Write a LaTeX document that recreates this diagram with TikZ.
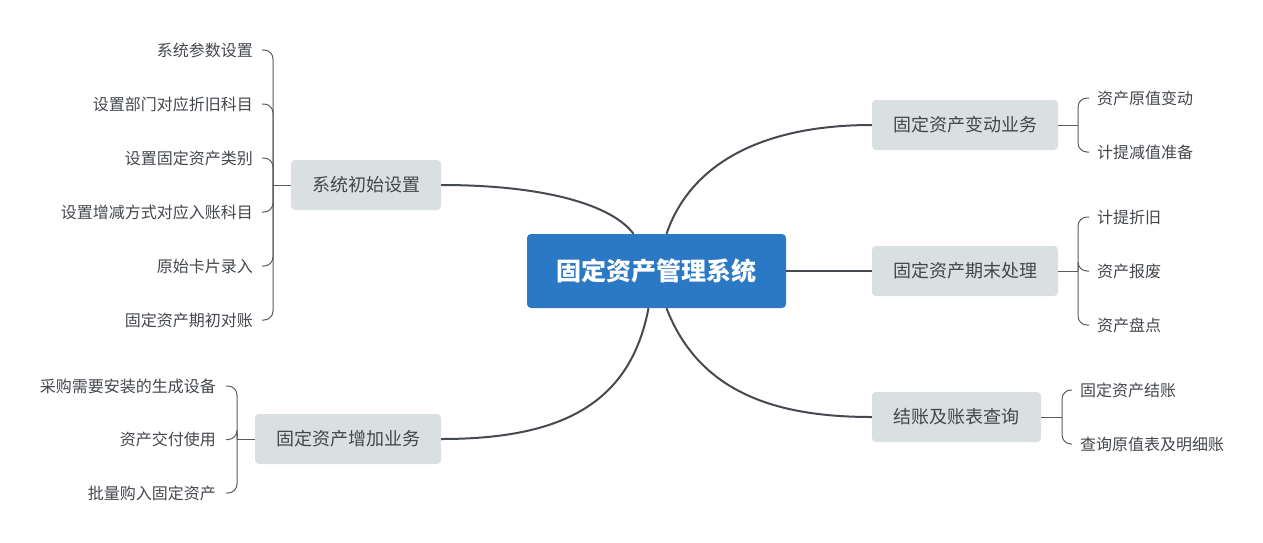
\documentclass[tikz,border=0pt]{standalone}
\usepackage{fontspec}
\setmainfont{Noto Sans CJK SC}
\usetikzlibrary{positioning}

\definecolor{rootblue}{HTML}{2B78C4}
\definecolor{topicgray}{HTML}{DAE0E2}
\definecolor{linegray}{HTML}{454A50}
\definecolor{textgray}{HTML}{43474C}

\begin{document}
\begin{tikzpicture}[x=1pt, y=-1pt,
  root/.style={fill=rootblue, rounded corners=4pt, minimum width=259pt, minimum height=74pt,
    text=white, font=\fontsize{25}{30}\selectfont\bfseries},
  topic/.style={fill=topicgray, rounded corners=4pt, minimum height=50pt,
    text=textgray, font=\fontsize{18}{22}\selectfont},
  leaf/.style={inner sep=0pt, text=textgray, font=\fontsize{16}{19}\selectfont},
  branch/.style={draw=linegray, line width=2pt},
  twig/.style={draw=linegray!90, line width=1pt, rounded corners=9pt}]

\useasboundingbox (0,0) rectangle (1263,542);

% Root and main topics
\node[root] (sys) at (656.5,271) {固定资产管理系统};
\node[topic, minimum width=150pt] (init) at (366,185) {系统初始设置};
\node[topic, minimum width=186pt] (add) at (348,439) {固定资产增加业务};
\node[topic, minimum width=186pt] (chg) at (965,125) {固定资产变动业务};
\node[topic, minimum width=186pt] (end) at (965,271) {固定资产期末处理};
\node[topic, minimum width=169pt] (close) at (956.5,417) {结账及账表查询};

% Main branches
\draw[branch] (init.east) .. controls (545,185) and (612,205) .. ([xshift=-23pt]sys.north);
\draw[branch] ([xshift=10pt]sys.north) .. controls (690,165) and (760,125) .. (chg.west);
\draw[branch] (sys.east) -- (end.west);
\draw[branch] ([xshift=-8pt]sys.south) .. controls (630,405) and (560,439) .. (add.east);
\draw[branch] ([xshift=10pt]sys.south) .. controls (700,395) and (780,417) .. (close.west);

% Junctions
\coordinate (j1) at (273,185);
\coordinate (j2) at (237,439);
\coordinate (j3) at (1078,125);
\coordinate (j4) at (1078,271);
\coordinate (j5) at (1062,417);
\draw[twig] (init.west) -- (j1);
\draw[twig] (add.west) -- (j2);
\draw[twig] (chg.east) -- (j3);
\draw[twig] (end.east) -- (j4);
\draw[twig] (close.east) -- (j5);

% System setup leaves
\foreach \t [count=\i] in {系统参数设置, 设置部门对应折旧科目, 设置固定资产类别,
    设置增减方式对应入账科目, 原始卡片录入, 固定资产期初对账} {
  \node[leaf, anchor=east] (a\i) at (253,{50+54*(\i-1)}) {\t};
  \draw[twig] (j1) |- ([xshift=9pt]a\i.east);
}

% Addition leaves
\foreach \t [count=\i] in {采购需要安装的生成设备, 资产交付使用, 批量购入固定资产} {
  \node[leaf, anchor=east] (b\i) at (216,{386+53.5*(\i-1)}) {\t};
  \draw[twig] (j2) |- ([xshift=10pt]b\i.east);
}

% Change leaves
\foreach \t [count=\i] in {资产原值变动, 计提减值准备} {
  \node[leaf, anchor=west] (c\i) at (1097,{98+54*(\i-1)}) {\t};
  \draw[twig] (j3) |- ([xshift=-8pt]c\i.west);
}

% Period-end leaves
\foreach \t [count=\i] in {计提折旧, 资产报废, 资产盘点} {
  \node[leaf, anchor=west] (d\i) at (1097,{217+54*(\i-1)}) {\t};
  \draw[twig] (j4) |- ([xshift=-8pt]d\i.west);
}

% Closing leaves
\foreach \t [count=\i] in {固定资产结账, 查询原值表及明细账} {
  \node[leaf, anchor=west] (e\i) at (1080,{390+54*(\i-1)}) {\t};
  \draw[twig] (j5) |- ([xshift=-8pt]e\i.west);
}

\end{tikzpicture}
\end{document}
